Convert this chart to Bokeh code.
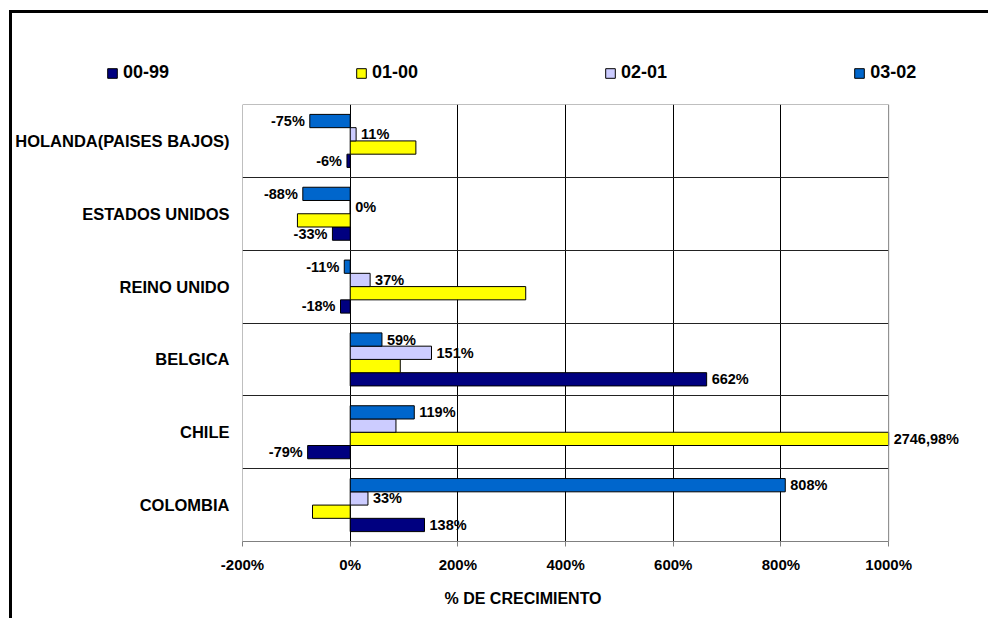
import numpy as np
from bokeh.plotting import figure
from bokeh.core.properties import value
from bokeh.models import (ColumnDataSource, FixedTicker, PrintfTickFormatter, Legend,
                          LegendItem, LabelSet, Title, Range1d, BoxAnnotation)
from bokeh.embed import file_html
from bokeh.resources import INLINE

# ---------------- data ----------------
categories = ["HOLANDA(PAISES BAJOS)", "ESTADOS UNIDOS", "REINO UNIDO",
              "BELGICA", "CHILE", "COLOMBIA"]
series = ["00-99", "01-00", "02-01", "03-02"]
v_00_99 = [-6, -33, -18, 662, -79, 138]
v_01_00 = [122, -98, 326, 93, 2746.98, -70]
v_02_01 = [11, 0, 37, 151, 85, 33]
v_03_02 = [-75, -88, -11, 59, 119, 808]
lab_00_99 = ["-6%", "-33%", "-18%", "662%", "-79%", "138%"]
lab_01_00 = ["", "", "", "", "2746,98%", ""]
lab_02_01 = ["11%", "0%", "37%", "151%", "", "33%"]
lab_03_02 = ["-75%", "-88%", "-11%", "59%", "119%", "808%"]
x_ticks = [-200, 0, 200, 400, 600, 800, 1000]
x_min, x_max = -200, 1000
colors = ["#000080", "#FFFF00", "#CCCCFF", "#0066CC"]

values = [v_00_99, v_01_00, v_02_01, v_03_02]
labels = [lab_00_99, lab_01_00, lab_02_01, lab_03_02]

FONT = "Liberation Sans"
n = len(categories)
centers = [n - i - 0.5 for i in range(n)]
bar_h = 0.182
offsets = [-1.5 * bar_h, -0.5 * bar_h, 0.5 * bar_h, 1.5 * bar_h]

# visible x window extends right of the plot area so labels beyond 1000% are shown
x_view_end = 1191
W = 979

# ---------------- legend strip (own root, so it is not frame-aligned) ----------------
top = figure(width=W, height=93, output_backend="svg", toolbar_location=None,
             x_axis_type=None, y_axis_type=None, x_range=Range1d(0, 1),
             y_range=Range1d(0, 1), min_border=0)
top.outline_line_color = None
top.styles = {"margin-left": "9px", "margin-top": "10px",
              "border-left": "3px solid black", "border-top": "3px solid black"}
leg_items = []
for s, vals, col in zip(series, values, colors):
    rr = top.hbar(y=centers, right=vals, height=bar_h, fill_color=col,
                  line_color="black", line_width=1, visible=False)
    leg_items.append(LegendItem(label=s, renderers=[rr]))
legend = Legend(items=leg_items, orientation="horizontal", location=(94, 23),
                glyph_width=12, glyph_height=12, label_standoff=5, spacing=186,
                padding=0, margin=0, border_line_alpha=0,
                background_fill_alpha=0, label_text_font=FONT,
                label_text_font_style="bold", label_text_font_size="18px",
                label_text_color="black")
top.add_layout(legend, "center")

# ---------------- main chart ----------------
p = figure(width=W, height=515, output_backend="svg", toolbar_location=None,
           x_range=Range1d(x_min, x_view_end), y_range=Range1d(0, n),
           min_border_left=229, min_border_right=0, min_border_top=1,
           min_border_bottom=76, background_fill_color="white",
           border_fill_color="white")
p.outline_line_color = None
p.styles = {"margin-left": "9px", "border-left": "3px solid black"}

pos_x, pos_y, pos_t = [], [], []
neg_x, neg_y, neg_t = [], [], []
for s, vals, labs, col, off in zip(series, values, labels, colors, offsets):
    ys = [c + off for c in centers]
    shown = np.clip(vals, x_min, x_max)
    src = ColumnDataSource(dict(y=ys, right=shown, left=[0] * n))
    p.hbar(y="y", left="left", right="right", height=bar_h, source=src,
           fill_color=col, line_color="black", line_width=1)
    for v, xv, y, t in zip(vals, shown, ys, labs):
        if not t:
            continue
        if v >= 0:
            pos_x.append(float(xv)); pos_y.append(y); pos_t.append(t)
        else:
            neg_x.append(float(xv)); neg_y.append(y); neg_t.append(t)

# plot-area border
p.add_layout(BoxAnnotation(left=x_min, right=x_max, bottom=0, top=n,
                           fill_alpha=0, line_color="#808080", line_width=1,
                           line_alpha=1))

pos_src = ColumnDataSource(dict(x=pos_x, y=pos_y, t=pos_t))
neg_src = ColumnDataSource(dict(x=neg_x, y=neg_y, t=neg_t))
for src, align, xo in [(pos_src, "left", 5), (neg_src, "right", -5)]:
    ls = LabelSet(x="x", y="y", text="t", source=src, text_align=align,
                  text_baseline="middle", x_offset=xo, text_font=value(FONT),
                  text_font_style="bold", text_font_size="14.5px",
                  text_color="black")
    p.add_layout(ls)

# axes
p.xaxis.ticker = FixedTicker(ticks=x_ticks)
p.xaxis.bounds = (x_min, x_max)
p.xaxis.formatter = PrintfTickFormatter(format="%d%%")
p.xaxis.axis_line_color = "#808080"
p.xaxis.major_tick_line_color = "#808080"
p.xaxis.major_tick_out = 5
p.xaxis.major_tick_in = 0
p.xaxis.minor_tick_line_color = None
p.xaxis.major_label_standoff = 9
p.xaxis.major_label_text_font = FONT
p.xaxis.major_label_text_font_style = "bold"
p.xaxis.major_label_text_font_size = "15px"
p.xaxis.major_label_text_color = "black"

p.yaxis.ticker = FixedTicker(ticks=centers)
p.yaxis.major_label_overrides = {c: name for c, name in zip(centers, categories)}
p.yaxis.axis_line_color = None
p.yaxis.major_tick_line_color = None
p.yaxis.minor_tick_line_color = None
p.yaxis.major_tick_out = 0
p.yaxis.major_label_standoff = 13
p.yaxis.major_label_text_font = FONT
p.yaxis.major_label_text_font_style = "bold"
p.yaxis.major_label_text_font_size = "16.5px"
p.yaxis.major_label_text_color = "black"

p.xgrid.ticker = FixedTicker(ticks=x_ticks[1:-1])
p.xgrid.grid_line_color = "black"
p.ygrid.ticker = FixedTicker(ticks=list(range(1, n)))
p.ygrid.cross_bounds = (x_min, x_max)
p.ygrid.grid_line_color = "#222222"

title = Title(text="% DE CRECIMIENTO", align="left", offset=202,
              text_font=FONT, text_font_style="bold", text_font_size="16px",
              text_color="black", standoff=24)
p.add_layout(title, "below")

open("out.html", "w").write(file_html([top, p], INLINE))
